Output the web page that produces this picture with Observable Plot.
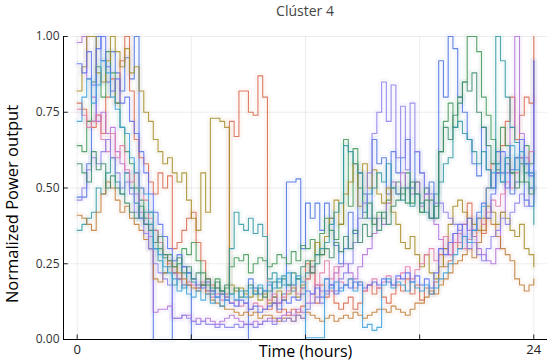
<!DOCTYPE html>
<html><head><meta charset="utf-8">
<script src="https://cdn.jsdelivr.net/npm/d3@7"></script>
<script src="https://cdn.jsdelivr.net/npm/@observablehq/plot@0.6"></script>
<style>
body{margin:0;background:#fff;font-family:"Open Sans","Noto Sans",sans-serif;}
#title{width:550px;height:24px;line-height:22px;box-sizing:border-box;padding-left:60px;text-align:center;font-size:14px;color:#444;}
</style></head>
<body>
<div id="title">Clúster 4</div>
<div id="chart"></div>
<script>
// 15-minute steps from 0 h to 24 h (97 points, last point drawn as final vertical at 24 h)
const stepHours = 0.25;
const xTicks = [0, 6, 12, 18, 24];
const xTickLabels = {0: "0", 24: "24"};
const yTicks = [0, 0.25, 0.5, 0.75, 1];
const seriesNames = ["s1","s2","s3","s4","s5","s6","s7","s8","s9","s10","s11","s12"];
const seriesColors = ["#4a72e0","#d8674e","#3f9558","#b070d8","#a48b24","#2f97a2","#e07aa8","#c07a34","#5a6ff0","#8a7fe6","#3c8a6c","#3a9fd8"];

const s1 = [.47,.47,.58,.72, 1.0,.92,.85,.95, .88,.82,.93,.86, 1.0,.40,.38,.30, 0,0,0,0, .22,.20,.24,.18, 0,0,0,0, 0,0,0,0, 0,0,0,0, .20,.17,.15,.16, .18,.14,.12,.15, .52,.52,.53,.30, .45,.40,.45,.36, .45,.40,.31,.25, .30,.42,.35,.55, .48,.40,.66,.58, .60,.48,.62,.55, .60,.66,.50,.62, .55,.48,.52,.40, .92,.80,1.0,.96, .80,.75,.66,.58, .54,.70,.56,.50, .62,.55,.58,.48, .52,.60,.46,.44, .92];
const s2 = [.78,.76,.72,.70, .74,.68,.80,.86, .78,.92,1.0,.82, .66,.60,.58,.52, .48,.55,.50,.54, .30,.32,.36,.40, .42,.32,.26,.20, .18,.17,.16,.15, .72,.67,.82,.82, .75,.74,.87,.80, .10,.12,.09,.10, .08,.10,.09,.11, .25,.22,.12,.18, .14,.16,.12,.10, .12,.14,.10,.12, .16,.18,.15,.17, .14,.12,.15,.18, .16,.20,.15,.18, .13,.17,.15,.19, .28,.24,.26,.32, .30,.38,.45,.34, .40,.35,.50,.58, .55,.64,.72,.80, .66,.74,.80,.78, 1.0];
const s3 = [.64,.62,.72,.85, .90,.80,.95,.88, .78,.70,.62,.58, .50,.46,.40,.42, .36,.30,.27,.28, .22,.25,.30,.28, .32,.26,.22,.18, .16,.20,.15,.17, .24,.27,.26,.28, .22,.25,.27,.26, .24,.25,.28,.27, .25,.29,.26,.31, .30,.33,.28,.35, .40,.36,.33,.38, .66,.44,.63,.50, .40,.45,.38,.42, .40,.46,.50,.52, .48,.55,.45,.52, .42,.50,.46,.40, .62,.72,.78,.70, .80,.85,1.0,1.0, .95,.80,.74,.66, .58,.70,.64,.55, .60,.52,.64,.58, .62];
const s4 = [.98,1.0,.86,.80, .72,.75,.68,.70, .62,.58,.55,.50, .48,.42,.38,.34, .09,.10,.10,.11, .07,.07,.08,.08, .06,.07,.06,.07, .06,.05,.06,.07, .08,.07,.06,.05, .05,.06,.05,.06, .07,.06,.07,.08, .09,.08,.10,.09, .12,.15,.18,.16, .20,.18,.22,.24, .25,.22,.20,.24, .28,.30,.35,.40, .38,.45,.52,.48, .55,.50,.48,.52, .44,.48,.40,.38, .33,.30,.28,.35, .32,.38,.36,.34, .30,.28,.26,.25, .30,.42,.55,.70, 1.0,.68,.60,.55, .50];
const s5 = [.82,.90,1.0,1.0, .88,.85,.92,1.0, .95,.90,.96,.88, .90,.82,.75,.72, .66,.62,.58,.60, .55,.52,.55,.46, .40,.36,.55,.42, .73,.73,.72,.70, .18,.16,.17,.15, .14,.16,.13,.15, .12,.14,.16,.13, .15,.17,.14,.18, .20,.26,.32,.28, .34,.40,.46,.38, .48,.52,.58,.44, .58,.50,.56,.48, .45,.50,.42,.38, .32,.30,.34,.28, .24,.28,.22,.20, .24,.30,.38,.44, .46,.42,.40,.38, .36,.40,.44,.42, .38,.42,.40,.36, .34,.38,.30,.28, .24];
const s6 = [.36,.38,.40,.42, .50,.48,.55,.60, .52,.48,.55,.50, .45,.40,.42,.38, .30,.26,.22,.24, .18,.20,.17,.22, .19,.17,.18,.16, .15,.17,.16,.14, .30,.42,.38,.36, .40,.35,.38,.34, .20,.22,.19,.21, .18,.16,.20,.17, .22,.24,.28,.30, .32,.38,.42,.45, .64,.62,.58,.55, .42,.48,.50,.55, .52,.58,.50,.48, .46,.50,.44,.48, .45,.42,.40,.48, .52,.58,.60,.70, .72,.68,.66,.62, .58,.62,.56,.50, 1.0,.92,.80,.70, .65,.60,.55,.50, .38];
const s7 = [.76,.74,.70,.72, .74,.66,.62,.68, .60,.64,.56,.52, .55,.50,.46,.40, .36,.32,.28,.25, .22,.20,.18,.19, .18,.17,.19,.16, .14,.15,.13,.14, .12,.13,.11,.12, .10,.12,.11,.10, .13,.15,.12,.14, .16,.18,.15,.17, .20,.24,.18,.22, .26,.20,.24,.19, .18,.20,.17,.19, .16,.18,.20,.17, .19,.21,.18,.20, .22,.24,.20,.23, .25,.28,.30,.26, .30,.34,.28,.32, .35,.30,.33,.36, .40,.38,.42,.46, .44,.48,.52,.50, .55,.60,.58,.62, .80];
const s8 = [.41,.40,.38,.36, .42,.48,.52,.50, .46,.42,.44,.40, .38,.36,.33,.30, .20,.19,.22,.26, .24,.22,.20,.18, .17,.16,.18,.15, .13,.12,.11,.10, .10,.09,.08,.09, .08,.09,.07,.08, .08,.07,.06,.07, .07,.06,.08,.07, .09,.08,.07,.06, .07,.08,.06,.07, .08,.07,.09,.08, .07,.08,.09,.10, .10,.09,.11,.10, .09,.08,.10,.12, .12,.14,.16,.15, .18,.20,.22,.25, .26,.28,.30,.27, .32,.36,.40,.38, .34,.30,.28,.26, .20,.18,.16,.18, .20];
const s9 = [.91,.88,.95,.84, .96,1.0,.90,.82, .86,.78,.80,.72, .68,.62,.55,.48, .42,.38,.34,.30, .26,.28,.24,.22, .20,.18,.17,.19, .16,.14,.15,.13, .12,.11,.13,.12, .10,.11,.09,.10, .11,.12,.10,.13, .12,.14,.13,.15, .16,.15,.17,.14, .16,.18,.15,.17, .18,.17,.19,.18, .17,.18,.19,.18, .20,.19,.18,.21, .20,.22,.19,.21, .18,.20,.17,.22, .30,.28,.32,.35, .38,.34,.40,.36, .42,.45,.40,.48, .55,.62,.50,.56, .60,.66,.58,.54, .92];
const s10 = [.46,.50,.56,.60, .58,.62,.66,.60, .55,.50,.52,.48, .42,.40,.35,.30, .25,.22,.20,.18, .07,.07,.08,.07, .06,.05,.06,.05, .05,.04,.05,.04, .04,.05,.04,.05, .05,.04,.05,.06, .06,.05,.07,.06, .07,.06,.08,.07, .10,.12,.14,.12, .15,.18,.16,.20, .22,.25,.32,.40, .45,.55,.68,.75, .85,.72,.84,.60, .77,.56,.78,.62, .55,.50,.48,.45, .45,.42,.40,.38, .36,.34,.30,.32, .28,.26,.30,.34, .36,.40,.38,.42, .45,.48,.44,.50, .46];
const s11 = [.58,.55,.52,.62, .56,.58,.50,.54, .50,.48,.45,.42, .40,.44,.38,.36, .32,.34,.28,.26, .24,.27,.22,.24, .20,.22,.18,.20, .17,.19,.16,.18, .15,.17,.14,.16, .18,.15,.17,.14, .16,.19,.17,.20, .18,.22,.20,.24, .26,.22,.25,.28, .30,.27,.32,.29, .34,.30,.36,.32, .38,.34,.40,.36, .42,.38,.44,.46, .50,.45,.52,.48, .42,.46,.40,.44, .62,.70,.66,.74, .78,.85,.82,.88, .75,.70,.64,.58, .56,.52,.60,.55, .50,.58,.52,.48, .55];
const s12 = [.72,.80,.86,.78, .84,.92,.88,.80, .76,.70,.68,.60, .55,.50,.48,.42, .30,.28,.24,.22, .20,.16,.18,.15, .14,.16,.13,.15, .12,.14,.11,.13, .15,.13,.16,.14, .17,.15,.18,.16, .19,.17,.20,.18, .22,.18,.21,.19, .006,.006,.006,.006, .20,.17,.19,.16, .18,.20,.16,.19, .04,.05,.03,.04, .18,.20,.17,.19, .18,.16,.19,.17, .16,.18,.15,.17, .20,.22,.25,.28, .30,.34,.32,.36, .40,.44,.50,.55, .58,.52,.60,.64, .56,.62,.58,.55, .50];

const allSeries = [s1,s2,s3,s4,s5,s6,s7,s8,s9,s10,s11,s12];
const rows = [];
allSeries.forEach((vals, k) => vals.forEach((v, i) => rows.push({t: i * stepHours, v, s: seriesNames[k]})));

const chart = Plot.plot({
  width: 550, height: 337,
  marginLeft: 63, marginRight: 3, marginTop: 12, marginBottom: 22,
  style: {fontFamily: '"Open Sans","Noto Sans",sans-serif', background: "#fff", overflow: "visible"},
  x: {domain: [-0.72, 24.72]},
  y: {domain: [0, 1]},
  color: {domain: seriesNames, range: seriesColors},
  marks: [
    Plot.gridX(xTicks, {stroke: "#000", strokeOpacity: 0.07}),
    Plot.gridY(yTicks, {stroke: "#000", strokeOpacity: 0.07}),
    Plot.line(rows, {x: "t", y: "v", z: "s", stroke: "s", curve: "step-after", strokeWidth: 7, strokeOpacity: 0.05}),
    Plot.line(rows, {x: "t", y: "v", z: "s", stroke: "s", curve: "step-after", strokeWidth: 1.1, strokeOpacity: 0.85}),
    Plot.ruleX(xTicks, {y1: 0, y2: 0.015, stroke: "#222"}),
    Plot.ruleY(yTicks, {x1: -0.72, x2: -0.47, stroke: "#222"}),
    Plot.axisX(xTicks, {tickSize: 0, tickPadding: 5, fontSize: 13, fill: "#222", tickFormat: d => xTickLabels[d] ?? "", label: null}),
    Plot.axisY(yTicks, {tickSize: 0, tickPadding: 4, fontSize: 12, fill: "#333", tickFormat: d => d.toFixed(2), label: null}),
    Plot.ruleX([-0.72], {stroke: "#000"}),
    Plot.ruleY([0], {stroke: "#000"}),
    Plot.text(["Time (hours)"], {frameAnchor: "bottom", dy: 12, fontSize: 16, fill: "#000", lineAnchor: "middle"}),
    Plot.text(["Normalized Power output"], {frameAnchor: "left", textAnchor: "middle", dx: -51, dy: 16, rotate: -90, fontSize: 16.5, fill: "#000"})
  ]
});
document.getElementById("chart").appendChild(chart);
</script>
</body></html>
